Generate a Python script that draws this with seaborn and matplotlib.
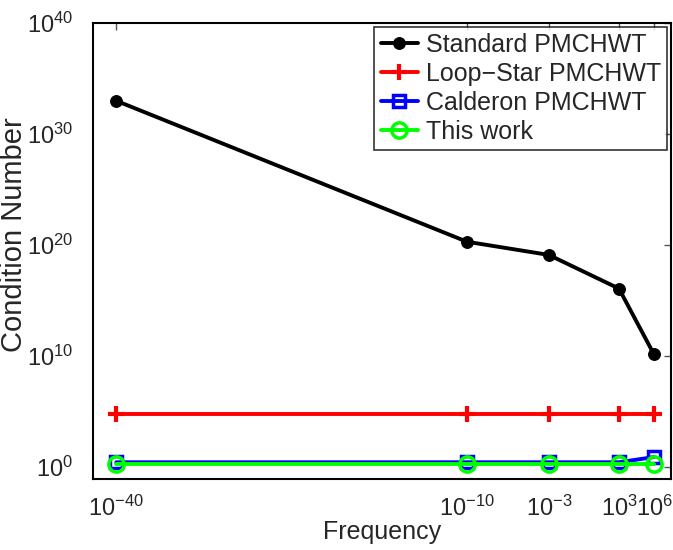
import numpy as np
import pandas as pd
import seaborn as sns
import matplotlib.pyplot as plt
from matplotlib.ticker import NullLocator

freq = [1e-40, 1e-10, 1e-3, 1e3, 1e6]
standard = [1e33, 2e20, 1.3e19, 1.2e16, 1.4e10]
loop_star = [6e4, 6e4, 6e4, 6e4, 6e4]
calderon = [2.7, 2.7, 2.7, 2.7, 8]
this_work = [1.9, 1.9, 1.9, 1.9, 1.9]

names = ['Standard PMCHWT', 'Loop\u2212Star PMCHWT', 'Calderon PMCHWT', 'This work']
colors = ['black', 'red', 'blue', '#00ff00']

sns.set_style('white')
plt.rcParams['font.family'] = ['Liberation Sans', 'DejaVu Sans']
plt.rcParams['mathtext.fontset'] = 'custom'
plt.rcParams['mathtext.rm'] = 'Liberation Sans'
plt.rcParams['mathtext.it'] = 'Liberation Sans'

df = pd.DataFrame({
    'Frequency': freq * 4,
    'Condition Number': standard + loop_star + calderon + this_work,
    'method': [n for n in names for _ in freq],
})

fig = plt.figure(figsize=(6.73, 5.5), dpi=100)
ax = fig.add_axes([0.138, 0.129, 0.859, 0.829])

styles = [
    dict(marker='o', markersize=8.5, markerfacecolor='black', markeredgecolor='black'),
    dict(marker='+', markersize=12, markeredgewidth=3, markeredgecolor='red'),
    dict(marker='s', markersize=9, markerfacecolor='none', markeredgewidth=2.5, markeredgecolor='blue'),
    dict(marker='o', markersize=11, markerfacecolor='none', markeredgewidth=2.5, markeredgecolor='#00ff00'),
]
for n, c, st in zip(names, colors, styles):
    sns.lineplot(data=df[df['method'] == n], x='Frequency', y='Condition Number',
                 color=c, linewidth=2.8, label=n, ax=ax, **st)

ax.set_xscale('log')
ax.set_yscale('log')
ax.set_xlim(10**-42, 10**7.45)
ax.set_ylim(10**-1.08, 1e40)
ax.set_xticks(freq)
ax.set_yticks([1e0, 1e10, 1e20, 1e30, 1e40])
ax.xaxis.set_minor_locator(NullLocator())
ax.yaxis.set_minor_locator(NullLocator())
ax.tick_params(direction='in', length=5, width=1, color='#555555', labelsize=17,
               top=True, right=True)
ax.tick_params(axis='x', pad=12)
ax.tick_params(axis='y', pad=14)
for s in ax.spines.values():
    s.set_color('black')
    s.set_linewidth(1.5)
ax.set_xlabel('Frequency', fontsize=18, labelpad=-1)
ax.set_ylabel('Condition Number', fontsize=21)
ax.yaxis.set_label_coords(-0.112, 0.537)

leg = ax.legend(loc='upper right', fontsize=18, frameon=True, fancybox=False,
                edgecolor='black', handlelength=1.5, handletextpad=0.3,
                borderpad=0.25, labelspacing=0.2, borderaxespad=0.15)
leg.get_frame().set_linewidth(1.2)

fig.savefig('out.png', dpi=100)
